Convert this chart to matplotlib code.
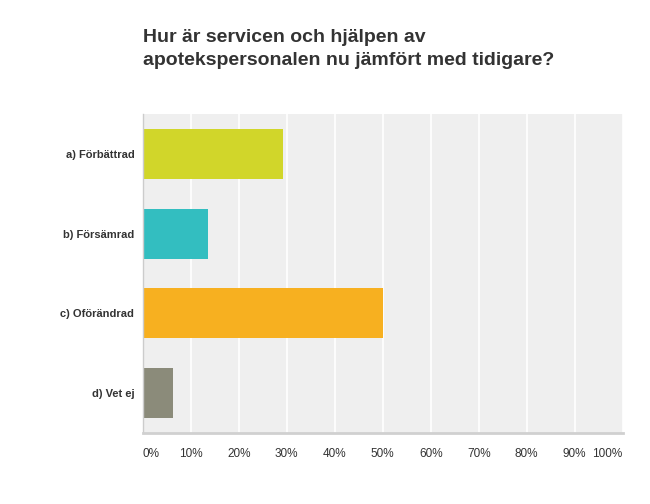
import matplotlib
matplotlib.use("Agg")
import matplotlib.pyplot as plt
import numpy as np

plt.rcParams["font.family"] = ["Liberation Sans", "DejaVu Sans"]

title = "Hur är servicen och hjälpen av\napotekspersonalen nu jämfört med tidigare?"
categories = ["a) Förbättrad", "b) Försämrad", "c) Oförändrad", "d) Vet ej"]
values = [29.2, 13.6, 50.1, 6.3]
colors = ["#d1d62a", "#33bec0", "#f7b020", "#8b8b7a"]
xticks = list(range(0, 101, 10))
xtick_labels = [f"{t}%" for t in xticks]

fig = plt.figure(figsize=(6.5, 5.04), dpi=100)
fig.patch.set_facecolor("white")
ax = fig.add_axes([142.7 / 650, 71 / 504, 480 / 650, 319 / 504])
ax.set_facecolor("#efefef")

y = np.arange(len(categories))
ax.barh(y, values, height=0.625, color=colors, zorder=2)
ax.set_ylim(len(categories) - 0.5, -0.5)
ax.set_xlim(0, 100)

ax.set_xticks(xticks)
ax.set_xticklabels(xtick_labels, fontsize=8.5, color="#333333")
labs = ax.get_xticklabels()
labs[0].set_ha("left")
labs[-1].set_ha("right")
ax.tick_params(axis="x", length=0, pad=11)
ax.set_yticks(y)
ax.set_yticklabels(categories, fontsize=8, fontweight="bold", color="#333333")
ax.tick_params(axis="y", length=0, pad=6)

ax.grid(axis="x", color="white", linewidth=1.2, zorder=1)
ax.set_axisbelow(True)
for side in ("top", "right"):
    ax.spines[side].set_visible(False)
ax.spines["left"].set_color("#cccccc")
ax.spines["left"].set_linewidth(1.0)
ax.spines["bottom"].set_color("#d0d0d0")
ax.spines["bottom"].set_linewidth(2.0)

fig.text(143 / 650, 1 - 29 / 504, title, fontsize=14, fontweight="bold",
         color="#333333", ha="left", va="top", linespacing=1.45)

fig.savefig("out.png", dpi=100, facecolor="white")
